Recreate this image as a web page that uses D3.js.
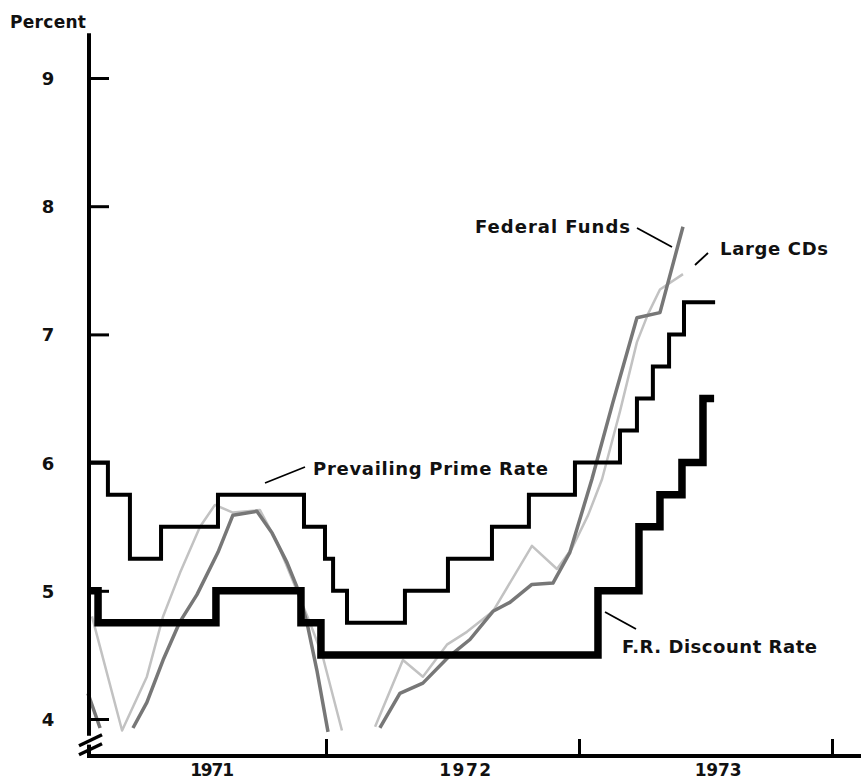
<!DOCTYPE html>
<html lang="en">
  <head>
    <meta charset="utf-8">
    <title>Interest rates 1971-1973</title>
    <script src="https://cdnjs.cloudflare.com/ajax/libs/d3/7.8.5/d3.min.js"></script>
    <style type="text/css">
    body { margin: 0; background: #fff; }
    text { font-family: "DejaVu Sans", sans-serif; font-weight: bold; fill: #111; }
    </style>
  </head>
  <body>
    <script type="text/javascript">
    // size of the picture
    var w = 861;
    var h = 780;

    // time is in decimal years, rates in percent
    var yearTicks = [1972, 1973, 1974];
    var yearLabels = ["1971", "1972", "1973"];
    var percentTicks = [4, 5, 6, 7, 8, 9];

    // prevailing prime rate: date of each change and the new rate (last entry = end of line)
    var primeDates = [1971.063, 1971.138, 1971.225, 1971.348, 1971.573, 1971.913, 1971.996, 1972.028, 1972.083,
      1972.312, 1972.482, 1972.656, 1972.802, 1972.984, 1973.162, 1973.229, 1973.292, 1973.356, 1973.415, 1973.538];
    var primeRates = [6.0, 5.75, 5.25, 5.5, 5.75, 5.5, 5.25, 5.0, 4.75,
      5.0, 5.25, 5.5, 5.75, 6.0, 6.25, 6.5, 6.75, 7.0, 7.25, 7.25];

    // F.R. discount rate
    var discountDates = [1971.063, 1971.099, 1971.565, 1971.901, 1971.980, 1973.075, 1973.237, 1973.320, 1973.407, 1973.490, 1973.534];
    var discountRates = [5.0, 4.75, 5.0, 4.75, 4.5, 5.0, 5.5, 5.75, 6.0, 6.5, 6.5];

    // federal funds (null = below the chart)
    var fundsDates = [1971.059, 1971.107, 1971.170, 1971.237, 1971.292, 1971.356, 1971.423, 1971.490, 1971.573,
      1971.632, 1971.727, 1971.787, 1971.846, 1971.885, 1971.925, 1971.964, 1972.008, 1972.110,
      1972.213, 1972.292, 1972.383, 1972.482, 1972.569, 1972.660, 1972.727, 1972.814, 1972.897,
      1972.964, 1973.051, 1973.134, 1973.229, 1973.320, 1973.411];
    var fundsRates = [4.20, 3.93, null, 3.93, 4.13, 4.46, 4.76, 4.97, 5.30,
      5.59, 5.62, 5.45, 5.22, 5.03, 4.75, 4.38, 3.90, null,
      3.93, 4.20, 4.28, 4.48, 4.62, 4.84, 4.91, 5.05, 5.06,
      5.30, 5.87, 6.47, 7.13, 7.17, 7.84];

    // large CDs
    var cdDates = [1971.075, 1971.194, 1971.292, 1971.356, 1971.423, 1971.502, 1971.561, 1971.632, 1971.739,
      1971.806, 1971.858, 1971.937, 1971.988, 1972.063, 1972.130,
      1972.194, 1972.304, 1972.383, 1972.478, 1972.557, 1972.660, 1972.814, 1972.913, 1972.972,
      1973.036, 1973.091, 1973.162, 1973.229, 1973.273, 1973.320, 1973.411];
    var cdRates = [4.80, 3.91, 4.33, 4.80, 5.14, 5.50, 5.67, 5.61, 5.63,
      5.38, 5.13, 4.75, 4.48, 3.91, null,
      3.94, 4.46, 4.33, 4.58, 4.68, 4.84, 5.35, 5.17, 5.33,
      5.59, 5.87, 6.40, 6.94, 7.16, 7.35, 7.47];

    function pairs(dates, rates) {
      return dates.map(function(d, i) { return { t: d, v: rates[i] }; });
    }

    var x = d3.scaleLinear().domain([1971, 1974]).range([73, 832]);
    var y = d3.scaleLinear().domain([4, 9]).range([719, 78]);

    var axisX = 89;      // where the percent axis stands
    var baseY = 756;     // where the time axis lies

    var svg = d3.select("body")
      .append("svg")
      .attr("width", w)
      .attr("height", h);

    var line = d3.line()
      .defined(function(d) { return d.v != null; })
      .x(function(d) { return x(d.t); })
      .y(function(d) { return y(d.v); });

    var stepLine = d3.line()
      .curve(d3.curveStepAfter)
      .x(function(d) { return x(d.t); })
      .y(function(d) { return y(d.v); });

    // market rates, grey
    svg.append("path")
      .datum(pairs(cdDates, cdRates))
      .attr("d", line)
      .attr("fill", "none")
      .attr("stroke", "#c2c2c2")
      .attr("stroke-width", 2.5)
      .attr("stroke-linejoin", "round");

    svg.append("path")
      .datum(pairs(fundsDates, fundsRates))
      .attr("d", line)
      .attr("fill", "none")
      .attr("stroke", "#777")
      .attr("stroke-width", 3.5)
      .attr("stroke-linejoin", "round");

    // administered rates, black steps
    svg.append("path")
      .datum(pairs(primeDates, primeRates))
      .attr("d", stepLine)
      .attr("fill", "none")
      .attr("stroke", "#000")
      .attr("stroke-width", 4);

    svg.append("path")
      .datum(pairs(discountDates, discountRates))
      .attr("d", stepLine)
      .attr("fill", "none")
      .attr("stroke", "#000")
      .attr("stroke-width", 7.5);

    // percent axis, ticks point inward
    var yAxis = svg.append("g")
      .attr("transform", "translate(" + axisX + ",0)")
      .call(d3.axisLeft(y).tickValues(percentTicks).tickSize(-20).tickPadding(41).tickFormat(d3.format("d")));
    yAxis.select(".domain").remove();
    yAxis.selectAll(".tick line").attr("stroke", "#000").attr("stroke-width", 3);
    yAxis.selectAll(".tick text")
      .attr("text-anchor", "middle")
      .attr("font-family", "'DejaVu Sans', sans-serif")
      .attr("font-size", "18px")
      .attr("dy", "0.36em");

    // vertical axis line with the break near the bottom
    svg.append("line")
      .attr("x1", axisX).attr("x2", axisX)
      .attr("y1", y(9.35)).attr("y2", y(3.87))
      .attr("stroke", "#000").attr("stroke-width", 4);
    svg.append("line")
      .attr("x1", axisX).attr("x2", axisX)
      .attr("y1", y(3.8)).attr("y2", baseY)
      .attr("stroke", "#000").attr("stroke-width", 4);
    [0, 9].forEach(function(off) {
      svg.append("line")
        .attr("x1", axisX - 10).attr("y1", y(3.83) + 5 + off)
        .attr("x2", axisX + 13).attr("y2", y(3.83) - 6 + off)
        .attr("stroke", "#000").attr("stroke-width", 3.5);
    });

    // time axis
    var xAxis = svg.append("g")
      .attr("transform", "translate(0," + baseY + ")")
      .call(d3.axisBottom(x).tickValues(yearTicks).tickSize(-17).tickFormat(""));
    xAxis.select(".domain").remove();
    xAxis.selectAll(".tick line").attr("stroke", "#000").attr("stroke-width", 3);
    svg.append("line")
      .attr("x1", axisX - 2).attr("x2", w)
      .attr("y1", baseY).attr("y2", baseY)
      .attr("stroke", "#000").attr("stroke-width", 4);

    var yearWidths = [44, 52, 47];
    svg.selectAll("text.year")
      .data(yearLabels)
      .enter()
      .append("text")
      .attr("class", "year")
      .attr("x", function(d) { return x(+d + 0.55); })
      .attr("y", 776)
      .attr("text-anchor", "middle")
      .attr("font-size", "17px")
      .attr("textLength", function(d, i) { return yearWidths[i]; })
      .attr("lengthAdjust", "spacing")
      .text(function(d) { return d; });

    svg.append("text")
      .attr("x", 10).attr("y", 28)
      .attr("font-size", "17px")
      .attr("textLength", 76)
      .attr("lengthAdjust", "spacing")
      .text("Percent");

    // series labels with leader lines
    var notes = [
      { text: "Prevailing Prime Rate", x: 313, y: 475, len: 235, lead: [265, 483, 305, 467] },
      { text: "Federal Funds", x: 475, y: 233, len: 155, lead: [637, 228, 672, 247] },
      { text: "Large CDs", x: 720, y: 255, len: 108, lead: [708, 253, 695, 265] },
      { text: "F.R. Discount Rate", x: 622, y: 653, len: 195, lead: [605, 612, 636, 629] }
    ];

    svg.selectAll("text.note")
      .data(notes)
      .enter()
      .append("text")
      .attr("class", "note")
      .attr("x", function(d) { return d.x; })
      .attr("y", function(d) { return d.y; })
      .attr("font-size", "18px")
      .attr("textLength", function(d) { return d.len; })
      .attr("lengthAdjust", "spacing")
      .text(function(d) { return d.text; });

    svg.selectAll("line.lead")
      .data(notes)
      .enter()
      .append("line")
      .attr("class", "lead")
      .attr("x1", function(d) { return d.lead[0]; })
      .attr("y1", function(d) { return d.lead[1]; })
      .attr("x2", function(d) { return d.lead[2]; })
      .attr("y2", function(d) { return d.lead[3]; })
      .attr("stroke", "#000")
      .attr("stroke-width", 1.8);
    </script>
  </body>
</html>
